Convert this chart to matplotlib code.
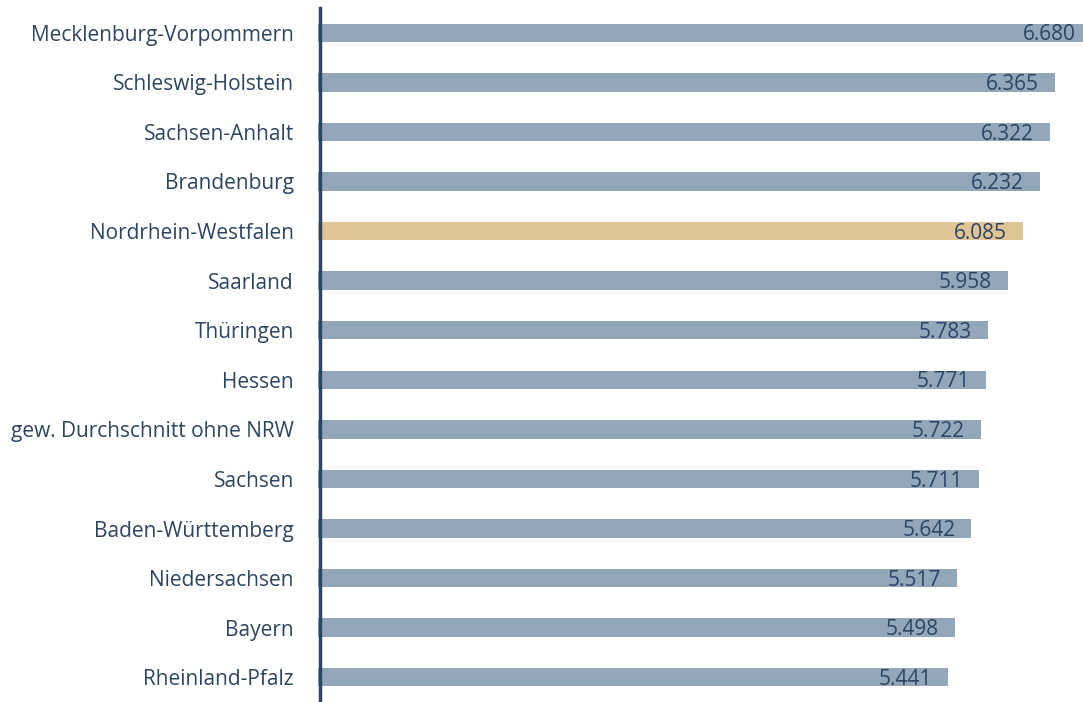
import matplotlib
matplotlib.use("Agg")
import matplotlib.pyplot as plt

# Values
laender = [
    "Mecklenburg-Vorpommern",
    "Schleswig-Holstein",
    "Sachsen-Anhalt",
    "Brandenburg",
    "Nordrhein-Westfalen",
    "Saarland",
    "Thüringen",
    "Hessen",
    "gew. Durchschnitt ohne NRW",
    "Sachsen",
    "Baden-Württemberg",
    "Niedersachsen",
    "Bayern",
    "Rheinland-Pfalz",
]
werte = [6.680, 6.365, 6.322, 6.232, 6.085, 5.958, 5.783, 5.771, 5.722,
         5.711, 5.642, 5.517, 5.498, 5.441]
highlight = "Nordrhein-Westfalen"

bar_color = "#94A7BA"
nrw_color = "#E2C597"
text_color = "#2C4563"

plt.rcParams["font.family"] = ["Open Sans", "DejaVu Sans"]

fig = plt.figure(figsize=(10.83, 7.02), dpi=100)
ax = fig.add_axes([318 / 1083, 0.0, 1 - 318 / 1083, 1 - 8 / 702])

# Spine first: moving it resets the ticks
for s in ["top", "right", "bottom"]:
    ax.spines[s].set_visible(False)
ax.spines["left"].set_color(text_color)
ax.spines["left"].set_linewidth(2.5)
ax.spines["left"].set_position(("data", 0.02))
ax.spines["left"].set_zorder(3)

ypos = list(range(len(laender)))
colors = [nrw_color if l == highlight else bar_color for l in laender]
ax.barh(ypos, werte, height=0.37, color=colors, zorder=2)

ax.set_xlim(0, 6.606)
ax.set_ylim(len(laender) - 0.5, -0.5)

# Value labels inside the bar end
for y, v in zip(ypos, werte):
    ax.annotate(f"{v:.3f}", xy=(v, y), xytext=(-11.5, -1.5), textcoords="offset points",
                ha="right", va="center", fontsize=15, color=text_color,
                annotation_clip=False)

ax.set_yticks(ypos)
ax.set_yticklabels(laender)
ax.tick_params(axis="y", length=0, pad=19, labelsize=15, labelcolor=text_color)
ax.set_xticks([])

fig.savefig("out.png", dpi=100)
